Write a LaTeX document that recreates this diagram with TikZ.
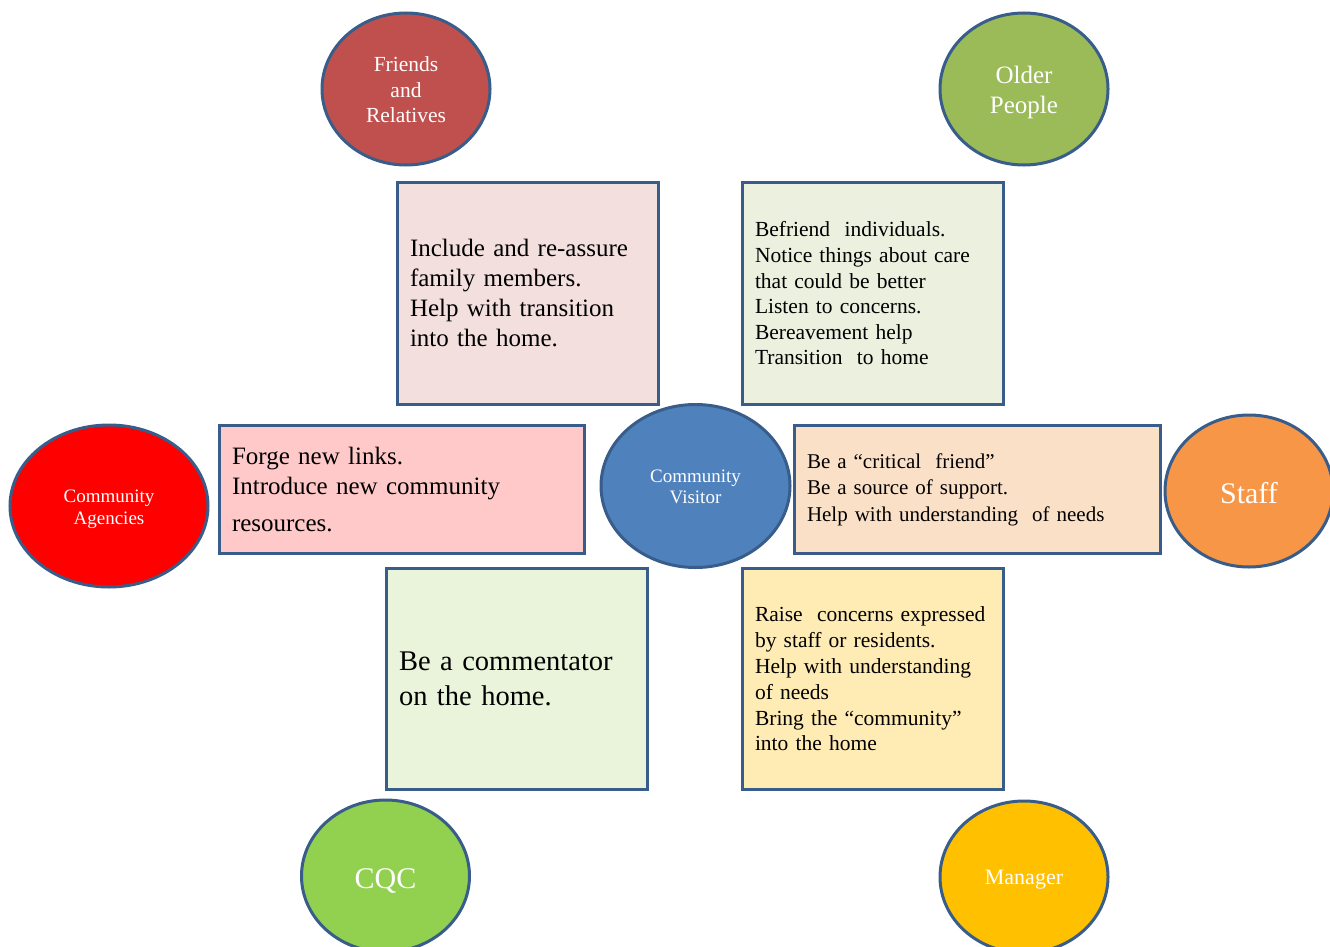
\documentclass[tikz,border=0pt]{standalone}
\usepackage{fontspec}
\setmainfont{Liberation Serif}
\usetikzlibrary{shapes.geometric}
\definecolor{edge}{HTML}{385D8A}
\definecolor{cFriends}{HTML}{C0504D}
\definecolor{cOlder}{HTML}{9BBB59}
\definecolor{cAgency}{HTML}{FF0000}
\definecolor{cVisitor}{HTML}{4F81BD}
\definecolor{cStaff}{HTML}{F79646}
\definecolor{cCQC}{HTML}{92D050}
\definecolor{cManager}{HTML}{FFC000}
\definecolor{bInclude}{HTML}{F2DFDE}
\definecolor{bBefriend}{HTML}{EBF0DF}
\definecolor{bForge}{HTML}{FFC9C9}
\definecolor{bCritical}{HTML}{FBE0C8}
\definecolor{bComment}{HTML}{E9F4DA}
\definecolor{bRaise}{HTML}{FFEBB4}
\tikzset{
  bubble/.style={ellipse, draw=edge, line width=3pt, inner sep=0pt},
  bubtext/.style={text=white, align=center, inner sep=0pt},
  infobox/.style={rectangle, draw=edge, line width=3pt, align=left, inner xsep=12.5pt, inner ysep=0pt, anchor=north west},
}
\begin{document}
\begin{tikzpicture}[x=1pt,y=-1pt]
\useasboundingbox (0,0) rectangle (1330,947);
% ellipses
\node[bubble, fill=cFriends, minimum width=168pt, minimum height=152pt] (friends) at (406,89) {};
\node[bubtext, font=\fontsize{21.5}{25.5}\selectfont] (friendsT) at ([yshift=-1pt]friends.center) {Friends\\and\\Relatives};
\node[bubble, fill=cOlder, minimum width=168pt, minimum height=152pt] (older) at (1024,89) {};
\node[bubtext, font=\fontsize{25}{30}\selectfont] (olderT) at ([yshift=-3pt]older.center) {Older\\People};
\node[bubble, fill=cAgency, minimum width=198pt, minimum height=162pt] (agency) at (109,506) {};
\node[bubtext, font=\fontsize{19}{22}\selectfont] (agencyT) at ([yshift=-3pt]agency.center) {Community\\Agencies};
\node[bubble, fill=cVisitor, minimum width=189pt, minimum height=163pt] (visitor) at (695.5,486) {};
\node[bubtext, font=\fontsize{19}{21}\selectfont] (visitorT) at ([yshift=-1pt]visitor.center) {Community\\Visitor};
\node[bubble, fill=cStaff, minimum width=168pt, minimum height=152pt] (staff) at (1249,491) {};
\node[bubtext, font=\fontsize{30}{30}\selectfont] (staffT) at ([yshift=-2pt]staff.center) {Staff};
\node[bubble, fill=cCQC, minimum width=168pt, minimum height=152pt] (cqc) at (385.5,876) {};
\node[bubtext, font=\fontsize{30}{30}\selectfont] (cqcT) at ([yshift=-5pt]cqc.center) {CQC};
\node[bubble, fill=cManager, minimum width=168pt, minimum height=152pt] (manager) at (1024,877) {};
\node[bubtext, font=\fontsize{22}{24}\selectfont] (managerT) at ([yshift=-3pt]manager.center) {Manager};
% boxes
\node[infobox, fill=bInclude, text width=236pt, minimum height=222pt, font=\fontsize{25}{30}\selectfont] (include) at (396,181)
 {\mbox{Include and re-assure}\\family members.\\Help with transition\\into the home.};
\node[infobox, fill=bBefriend, text width=236pt, minimum height=222pt, font=\fontsize{21.5}{25.6}\selectfont] (befriend) at (741,181)
 {Befriend\ \ individuals.\\\mbox{Notice things about care}\\that could be better\\Listen to concerns.\\Bereavement help\\Transition\ \ to home};
\node[infobox, fill=bForge, text width=340pt, minimum height=128pt, font=\fontsize{25}{30}\selectfont] (forge) at (218,424)
 {Forge new links.\\\mbox{Introduce new community}\\[7pt]resources.};
\node[infobox, fill=bCritical, text width=341pt, minimum height=128pt, font=\fontsize{21}{26.5}\selectfont] (critical) at (793,424)
 {Be a ``critical\ \ friend''\\Be a source of support.\\\mbox{Help with understanding\ \ of needs}};
\node[infobox, fill=bComment, text width=236pt, minimum height=221pt, font=\fontsize{28.5}{35}\selectfont] (comment) at (385,567)
 {\mbox{Be a commentator}\\on the home.};
\node[infobox, fill=bRaise, text width=236pt, minimum height=221pt, font=\fontsize{21.5}{25.8}\selectfont] (raise) at (741,567)
 {\mbox{Raise\ \ concerns expressed}\\by staff or residents.\\\mbox{Help with understanding}\\of needs\\Bring the ``community''\\into the home};
\end{tikzpicture}
\end{document}
